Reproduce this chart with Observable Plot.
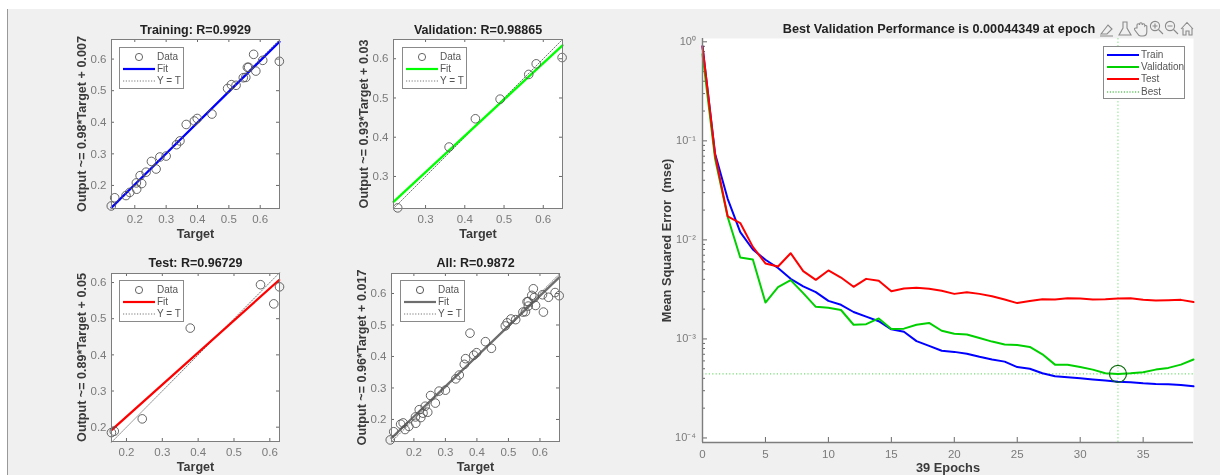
<!DOCTYPE html>
<html>
<head>
<meta charset="utf-8">
<script src="https://cdn.jsdelivr.net/npm/d3@7"></script>
<script src="https://cdn.jsdelivr.net/npm/@observablehq/plot@0.6"></script>
<style>
html,body{margin:0;padding:0;background:#fff;overflow:hidden}
#root{position:absolute;left:0;top:0;width:1220px;height:475px;background:#fff;overflow:hidden;font-family:"Liberation Sans",Arial,sans-serif;filter:blur(.45px)}
#bg{position:absolute;left:7px;top:9px;right:0;bottom:0;background:#f0f0f0;border-left:1px solid #999}
.panel{position:absolute}
.panel svg{overflow:visible;background:transparent;display:block}
.legend{position:absolute;background:#fff;border:1px solid #8a8a8a;box-sizing:border-box;font-size:10px;color:#555}
.legend .row{position:absolute;left:0;right:0;height:12px;line-height:12px}
.legend .row span{position:absolute;top:0}
.legend svg{position:absolute;left:0;top:0}
#toolbar{position:absolute;left:1099px;top:19px}
</style>
</head>
<body>
<div id="root"><div id="bg"></div></div>
<script>
// ---- Regression data: target / output per subset ----
const trainTargets = [.125,.136,.172,.184,.206,.205,.217,.222,.236,.253,.268,.280,.300,.333,.344,.364,.390,.399,.446,.496,.508,.523,.546,.554,.559,.563,.586,.579,.608,.661];
const trainOutputs = [.135,.161,.168,.178,.188,.208,.231,.206,.242,.276,.252,.290,.293,.329,.341,.393,.404,.412,.426,.507,.519,.517,.541,.542,.574,.574,.562,.615,.596,.593];
const valTargets = [.229,.360,.427,.490,.563,.582,.648];
const valOutputs = [.220,.375,.447,.497,.560,.587,.603];
const testTargets = [.158,.166,.244,.378,.574,.611,.627];
const testOutputs = [.185,.189,.223,.474,.594,.541,.588];
const allTargets = [...trainTargets, ...valTargets, ...testTargets];
const allOutputs = [...trainOutputs, ...valOutputs, ...testOutputs];

// ---- Fit line end points ----
const trainFitX = [.1257,.6615], trainFitY = [.1302,.655];
const valFitX = [.2183,.649], valFitY = [.2354,.634];
const testFitX = [.1590,.626], testFitY = [.1925,.607];
const allFitX = [.129,.662], allFitY = [.141,.652];

// ---- Training record (39 epochs) ----
const epochs = d3.range(40);
const mseTrain = [.9,.074,.026,.012,.008,.0063,.0052,.00405,.0034,.00297,.00242,.00221,.00187,.00168,.00151,.00125,.00118,.00095,.00085,.00076,.00074,.00071,.00066,.00062,.00059,.00052,.0005,.00045,.00042,.00041,.0004,.00039,.00038,.00037,.000365,.000356,.00035,.000348,.000343,.000332];
const mseVal = [.75,.066,.017,.00664,.00634,.00233,.00333,.00392,.0029,.00211,.00206,.00196,.00139,.00141,.00161,.00126,.00127,.00139,.00145,.00121,.00113,.00111,.00102,.00094,.00088,.00087,.00083,.0007,.00055,.00055,.00052,.00049,.00045,.00044349,.00045,.00046,.00049,.00051,.00055,.00062];
const mseTest = [.9,.072,.0173,.0148,.0085,.00578,.00538,.00734,.00483,.00395,.00491,.00417,.00336,.00404,.00386,.00303,.00323,.00328,.00321,.00306,.00285,.00296,.00285,.0027,.0025,.0023,.00242,.00252,.0025,.00258,.00256,.0025,.00252,.00256,.00258,.00248,.00244,.00246,.00248,.00236];
const bestEpoch = [33], bestMse = [.00044349];

// ---- Ticks ----
const ticks01 = [.2,.3,.4,.5,.6];
const ticks03 = [.3,.4,.5,.6];
const perfXTicks = [0,5,10,15,20,25,30,35];
const perfYTicks = [1,.1,.01,.001,.0001];
const perfYLabels = ["10\u2070","10\u207B\u00B9","10\u207B\u00B2","10\u207B\u00B3","10\u207B\u2074"];
const perfYMinor = [2,3,4,5,6,7,8,9].flatMap(m => [.1,.01,.001,.0001].map(p => m * p));

const FONT = '"Liberation Sans",Arial,sans-serif';
const root = document.getElementById("root");
const TICK = "#6a6a6a", LABEL = "#7a7a7a", AXLAB = "#3a3a3a", TITLE = "#222";

function boldLabels(svg, size) {
  svg.querySelectorAll('[aria-label="y-axis label"] text, [aria-label="x-axis label"] text').forEach(n => {
    n.setAttribute("font-weight", "bold"); n.setAttribute("font-size", size); n.setAttribute("fill", AXLAB);
  });
}

function scatter(c) {
  const m = {l: 50, r: 20, t: 26, b: 36};
  const W = c.right - c.left, H = c.bottom - c.top;
  const pts = c.tx.map((t, i) => ({t, o: c.oy[i]}));
  const fit = c.fx.map((x, i) => ({x, y: c.fy[i]}));
  const t = 3;
  const svg = Plot.plot({
    width: W + m.l + m.r, height: H + m.t + m.b,
    marginLeft: m.l, marginRight: m.r, marginTop: m.t, marginBottom: m.b,
    style: {fontFamily: FONT, background: "transparent", overflow: "visible"},
    x: {domain: c.xd}, y: {domain: c.yd},
    marks: [
      Plot.frame({fill: "#fff", stroke: "none"}),
      Plot.axisX(c.ticks, {label: "Target", labelAnchor: "center", labelArrow: "none", labelOffset: 29.5, tickSize: 0, tickPadding: 6, fontSize: 11.5, color: LABEL, tickFormat: d3.format(".1f")}),
      Plot.axisY(c.ticks, {label: c.ylabel, labelAnchor: "center", labelArrow: "none", labelOffset: c.labOff, tickSize: 0, tickPadding: 5, fontSize: 11.5, color: LABEL, tickFormat: d3.format(".1f")}),
      Plot.tickX(c.ticks, {x: d => d, insetTop: H - t, stroke: TICK}),
      Plot.tickX(c.ticks, {x: d => d, insetBottom: H - t, stroke: TICK}),
      Plot.tickY(c.ticks, {y: d => d, insetRight: W - t, stroke: TICK}),
      Plot.tickY(c.ticks, {y: d => d, insetLeft: W - t, stroke: TICK}),
      Plot.line(c.xd, {x: d => d, y: d => d, stroke: "#555", strokeWidth: .8, strokeDasharray: "1.2 1.6"}),
      Plot.line(fit, {x: "x", y: "y", stroke: c.color, strokeWidth: 2.3}),
      Plot.dot(pts, {x: "t", y: "o", r: 4.3, stroke: "#555", strokeWidth: .9, fill: "none"}),
      Plot.frame({stroke: "#7d7d7d", strokeWidth: 1}),
      Plot.text([c.title], {text: d => d, frameAnchor: "top", dy: c.titleDy, fontWeight: "bold", fontSize: 12.5, fill: TITLE})
    ]
  });
  boldLabels(svg, 12.6);
  const wrap = document.createElement("div");
  wrap.className = "panel";
  wrap.style.left = (c.left - m.l) + "px";
  wrap.style.top = (c.top - m.t) + "px";
  wrap.appendChild(svg);
  root.appendChild(wrap);
  legendScatter(c.legend[0], c.legend[1], c.color, c.color === "#6e6e6e" ? "#444" : "#555");
}

function legendBox(x, y, w, h, rows, textX, rowH, y0) {
  const d = document.createElement("div");
  d.className = "legend";
  d.style.cssText = `left:${x}px;top:${y}px;width:${w}px;height:${h}px`;
  rows.forEach((r, i) => {
    const e = document.createElement("div");
    e.className = "row";
    e.style.top = (y0 + i * rowH - 6) + "px";
    e.innerHTML = `<svg width="${textX}" height="12">${r.svg}</svg><span style="left:${textX + 1}px">${r.text}</span>`;
    d.appendChild(e);
  });
  root.appendChild(d);
}

function legendScatter(x, y, color, dotColor) {
  legendBox(x, y, 65, 42, [
    {text: "Data", svg: `<circle cx="19" cy="6" r="3.6" fill="none" stroke="${dotColor}" stroke-width=".9"/>`},
    {text: "Fit", svg: `<line x1="3" x2="35" y1="6" y2="6" stroke="${color}" stroke-width="2.2"/>`},
    {text: "Y = T", svg: `<line x1="3" x2="35" y1="6" y2="6" stroke="#555" stroke-width=".8" stroke-dasharray="1.2 1.6"/>`}
  ], 36, 12.3, 8.5);
}

scatter({title: "Training: R=0.9929", titleDy: -14, ylabel: "Output ~= 0.98*Target + 0.007", color: "#0000ff", tx: trainTargets, oy: trainOutputs, fx: trainFitX, fy: trainFitY, xd: [.1257,.6615], yd: [.127,.662], ticks: ticks01, left: 111, right: 279, top: 39, bottom: 208, legend: [119,47], labOff: 34});
scatter({title: "Validation: R=0.98865", titleDy: -14, ylabel: "Output ~= 0.93*Target + 0.03", color: "#00ff00", tx: valTargets, oy: valOutputs, fx: valFitX, fy: valFitY, xd: [.2183,.649], yd: [.2184,.649], ticks: ticks03, left: 393, right: 562, top: 39, bottom: 208, legend: [402,47], labOff: 34});
scatter({title: "Test: R=0.96729", titleDy: -15.5, ylabel: "Output ~= 0.89*Target + 0.05", color: "#ff0000", tx: testTargets, oy: testOutputs, fx: testFitX, fy: testFitY, xd: [.1582,.627], yd: [.1604,.625], ticks: ticks01, left: 111, right: 279, top: 273, bottom: 441, legend: [119,280], labOff: 34});
scatter({title: "All: R=0.9872", titleDy: -15.5, ylabel: "Output ~= 0.96*Target + 0.017", color: "#6e6e6e", tx: allTargets, oy: allOutputs, fx: allFitX, fy: allFitY, xd: [.129,.662], yd: [.130,.6635], ticks: ticks01, left: 391, right: 559, top: 273, bottom: 441, legend: [400,280], labOff: 34});

// ---- Performance panel ----
(function () {
  const m = {l: 50, r: 27, t: 28, b: 33};
  const left = 702, right = 1193, top = 38, bottom = 442;
  const W = right - left, H = bottom - top;
  const rec = epochs.map((e, i) => ({e, tr: mseTrain[i], va: mseVal[i], te: mseTest[i]}));
  const bestPts = bestEpoch.map((e, i) => ({e, m: bestMse[i]}));
  const svg = Plot.plot({
    width: W + m.l + m.r, height: H + m.t + m.b,
    marginLeft: m.l, marginRight: m.r, marginTop: m.t, marginBottom: m.b,
    style: {fontFamily: FONT, background: "transparent", overflow: "visible"},
    x: {domain: [0, 39]},
    y: {type: "log", domain: [.9e-4, 1.08]},
    marks: [
      Plot.frame({fill: "#fff", stroke: "none"}),
      Plot.axisX(perfXTicks, {label: "39 Epochs", labelAnchor: "center", labelArrow: "none", labelOffset: 29, tickSize: 0, tickPadding: 7, fontSize: 11.5, color: LABEL, tickFormat: d => String(d)}),
      Plot.axisY(perfYTicks, {label: "Mean Squared Error  (mse)", labelAnchor: "center", labelArrow: "none", labelOffset: 41, tickSize: 0, tickPadding: 6.5, fontSize: 11, color: LABEL, tickFormat: d => perfYLabels[perfYTicks.indexOf(d)]}),
      Plot.tickX(perfXTicks, {x: d => d, insetTop: H - 5, stroke: TICK}),
      Plot.tickY(perfYTicks, {y: d => d, insetRight: W - 5, stroke: TICK}),
      Plot.tickY(perfYMinor, {y: d => d, insetRight: W - 3, stroke: TICK}),
      Plot.ruleX(bestPts, {x: "e", stroke: "#00c000", strokeWidth: .9, strokeDasharray: "1.5 2", strokeOpacity: .5}),
      Plot.ruleY(bestPts, {y: "m", stroke: "#00c000", strokeWidth: .9, strokeDasharray: "1.2 2.2", strokeOpacity: .75}),
      Plot.line(rec, {x: "e", y: "tr", stroke: "#0000ff", strokeWidth: 2}),
      Plot.line(rec, {x: "e", y: "va", stroke: "#00d000", strokeWidth: 2}),
      Plot.line(rec, {x: "e", y: "te", stroke: "#ff0000", strokeWidth: 2}),
      Plot.dot(bestPts, {x: "e", y: "m", r: 8.5, stroke: "#0a6a0a", strokeWidth: 1.2, fill: "none"}),
      Plot.ruleX([0], {stroke: "#7d7d7d", strokeWidth: 1.4}),
      Plot.ruleY([.9e-4], {stroke: "#7d7d7d", strokeWidth: 1.4}),
      Plot.text(["Best Validation Performance is 0.00044349 at epoch"], {text: d => d, frameAnchor: "top", dx: -9, dy: -15, fontWeight: "bold", fontSize: 12.7, fill: TITLE})
    ]
  });
  boldLabels(svg, 12.8);
  const wrap = document.createElement("div");
  wrap.className = "panel";
  wrap.style.left = (left - m.l) + "px";
  wrap.style.top = (top - m.t) + "px";
  wrap.appendChild(svg);
  root.appendChild(wrap);

  const ln = (c, w, dash) => `<line x1="3" x2="35" y1="6" y2="6" stroke="${c}" stroke-width="${w}"${dash ? ` stroke-dasharray="${dash}"` : ""}/>`;
  legendBox(1103, 46, 82, 53, [
    {text: "Train", svg: ln("#0000ff", 2)},
    {text: "Validation", svg: ln("#00d000", 2)},
    {text: "Test", svg: ln("#ff0000", 2)},
    {text: "Best", svg: ln("#00a000", .9, "1.2 1.6")}
  ], 36, 12.35, 7.5);
})();

// ---- Axes toolbar icons ----
const tb = document.createElement("div");
tb.id = "toolbar";
tb.innerHTML = `<svg width="96" height="20" fill="none" stroke="#8a8a8a" stroke-width="1.1">
<path d="M2 15 L9 6 L13 10 L8 15 Z M1 17 H14"/>
<path d="M24 3 h4 v6 l4 7 h-12 l4 -7 z"/>
<path d="M38 9 v-3 a1.3 1.3 0 0 1 2.6 0 v-1 a1.3 1.3 0 0 1 2.6 0 v1 a1.3 1.3 0 0 1 2.6 0 v1 a1.3 1.3 0 0 1 2 0 v6 q0 4 -4 4 h-2 q-2 0 -3 -2 l-3 -4 q-1 -2 1 -2 z"/>
<circle cx="56" cy="7" r="4.6"/><path d="M59.5 10.5 L64 15 M53.5 7 h5 M56 4.5 v5"/>
<circle cx="71" cy="7" r="4.6"/><path d="M74.5 10.5 L79 15 M68.5 7 h5"/>
<path d="M82 10 L88 3.5 L94 10 M84 9 v7 h3 v-4 h3 v4 h3 v-7"/>
</svg>`;
root.appendChild(tb);
</script>
</body>
</html>
